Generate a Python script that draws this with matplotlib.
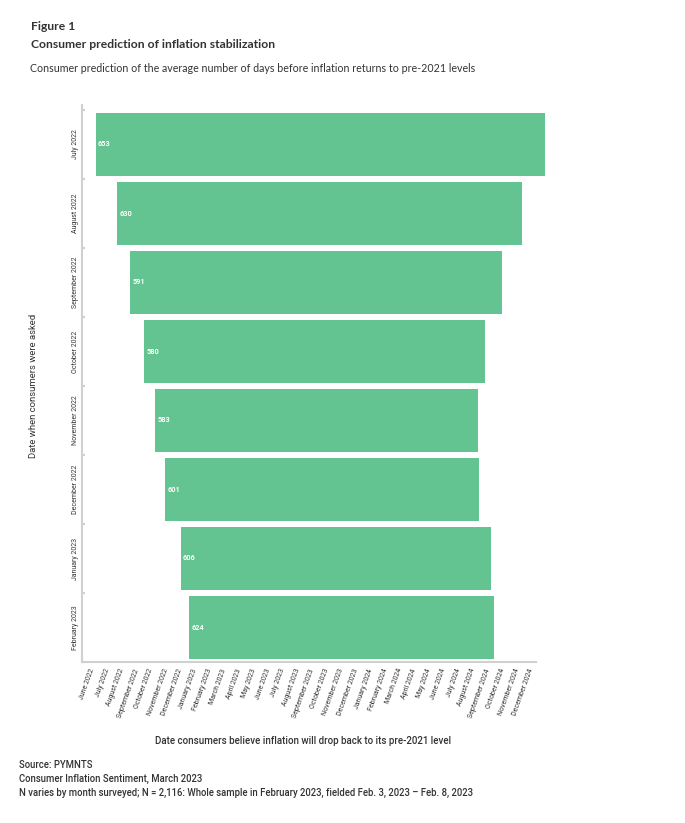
import numpy as np
import matplotlib
matplotlib.use('Agg')
import matplotlib.pyplot as plt

# survey month (rows, top to bottom)
surveyMonths = ['July 2022', 'August 2022', 'September 2022', 'October 2022',
                'November 2022', 'December 2022', 'January 2023', 'February 2023']
# average number of days predicted
daysToStable = [653, 630, 591, 580, 583, 601, 606, 624]
# bar extents, in months after June 2022
barStart = [0.2, 1.64, 2.53, 3.49, 4.24, 4.92, 6.0, 6.56]
barEnd = [30.9, 29.3, 27.96, 26.8, 26.3, 26.4, 27.2, 27.4]

monthLabels = []
for yr in [2022, 2023, 2024]:
    for m in ['January', 'February', 'March', 'April', 'May', 'June', 'July',
              'August', 'September', 'October', 'November', 'December']:
        monthLabels.append(m + ' ' + str(yr))
monthLabels = monthLabels[5:]  # June 2022 .. December 2024

BAR_COLOR = '#63c391'
AXIS_COLOR = '#d0d0d0'
TXT = '#333333'

fig = plt.figure(figsize=(6.85, 8.23), dpi=100)
ax = fig.add_axes([82/685, 1-662/823, (548-82)/685, 552/823])

ind = np.arange(len(surveyMonths))
widths = np.array(barEnd) - np.array(barStart)
ax.barh(ind, widths, left=barStart, height=0.91, color=BAR_COLOR, zorder=2)
for i in ind:
    ax.text(barStart[i] + 0.15, i, str(daysToStable[i]), color='white',
            fontsize=5.3, fontweight='bold', family='Roboto', va='center', ha='left')

ax.set_ylim(7.5, -0.5)
ax.set_xlim(-0.75, 31.1)

ax.set_yticks(ind)
ax.set_yticklabels(surveyMonths, rotation=90, va='center', ha='center',
                   fontsize=5, family='Roboto', color=TXT)
ax.set_yticks(np.arange(-0.5, 8, 1), minor=True)
ax.tick_params(axis='y', which='major', length=0, pad=5)
ax.tick_params(axis='y', which='minor', length=2.5, width=1.5, direction='in', color=AXIS_COLOR)

ax.set_xticks(np.arange(len(monthLabels)))
ax.set_xticklabels(monthLabels, rotation=70, ha='right', va='center',
                   rotation_mode='anchor', fontsize=5, family='Roboto', color=TXT)
ax.tick_params(axis='x', length=0, pad=5)

for s in ['top', 'right']:
    ax.spines[s].set_visible(False)
for s in ['left', 'bottom']:
    ax.spines[s].set_color(AXIS_COLOR)
    ax.spines[s].set_linewidth(1.5)
ax.spines['bottom'].set_bounds(-0.75, 30.28)
ax.spines['left'].set_bounds(7.5, -0.57)

ax.set_ylabel('Date when consumers were asked', fontsize=6.8, family='Roboto',
              color=TXT)
ax.yaxis.set_label_coords(-0.095, 0.5)
fig.text(303/685, 1-741/823, 'Date consumers believe inflation will drop back to its pre-2021 level',
         fontsize=7, family='Roboto', fontweight='medium', color=TXT, ha='center', va='center')

# header
fig.text(31/685, 1-26/823, 'Figure 1', fontsize=8.75, family='Lato', fontweight='bold',
         color=TXT, va='center')
fig.text(31/685, 1-44/823, 'Consumer prediction of inflation stabilization', fontsize=8.75,
         family='Lato', fontweight='bold', color=TXT, va='center')
fig.text(30/685, 1-69/823, 'Consumer prediction of the average number of days before inflation returns to pre-2021 levels',
         fontsize=7.65, family='Lato', color=TXT, va='center')

# footer
foot = ['Source: PYMNTS', 'Consumer Inflation Sentiment, March 2023',
        'N varies by month surveyed; N = 2,116: Whole sample in February 2023, fielded Feb. 3, 2023 \u2013 Feb. 8, 2023']
for k, line in enumerate(foot):
    fig.text(19/685, 1-(765+14*k)/823, line, fontsize=6.85, family='Roboto',
             fontweight='medium', color=TXT, va='center')

fig.savefig('out.png', dpi=100)
